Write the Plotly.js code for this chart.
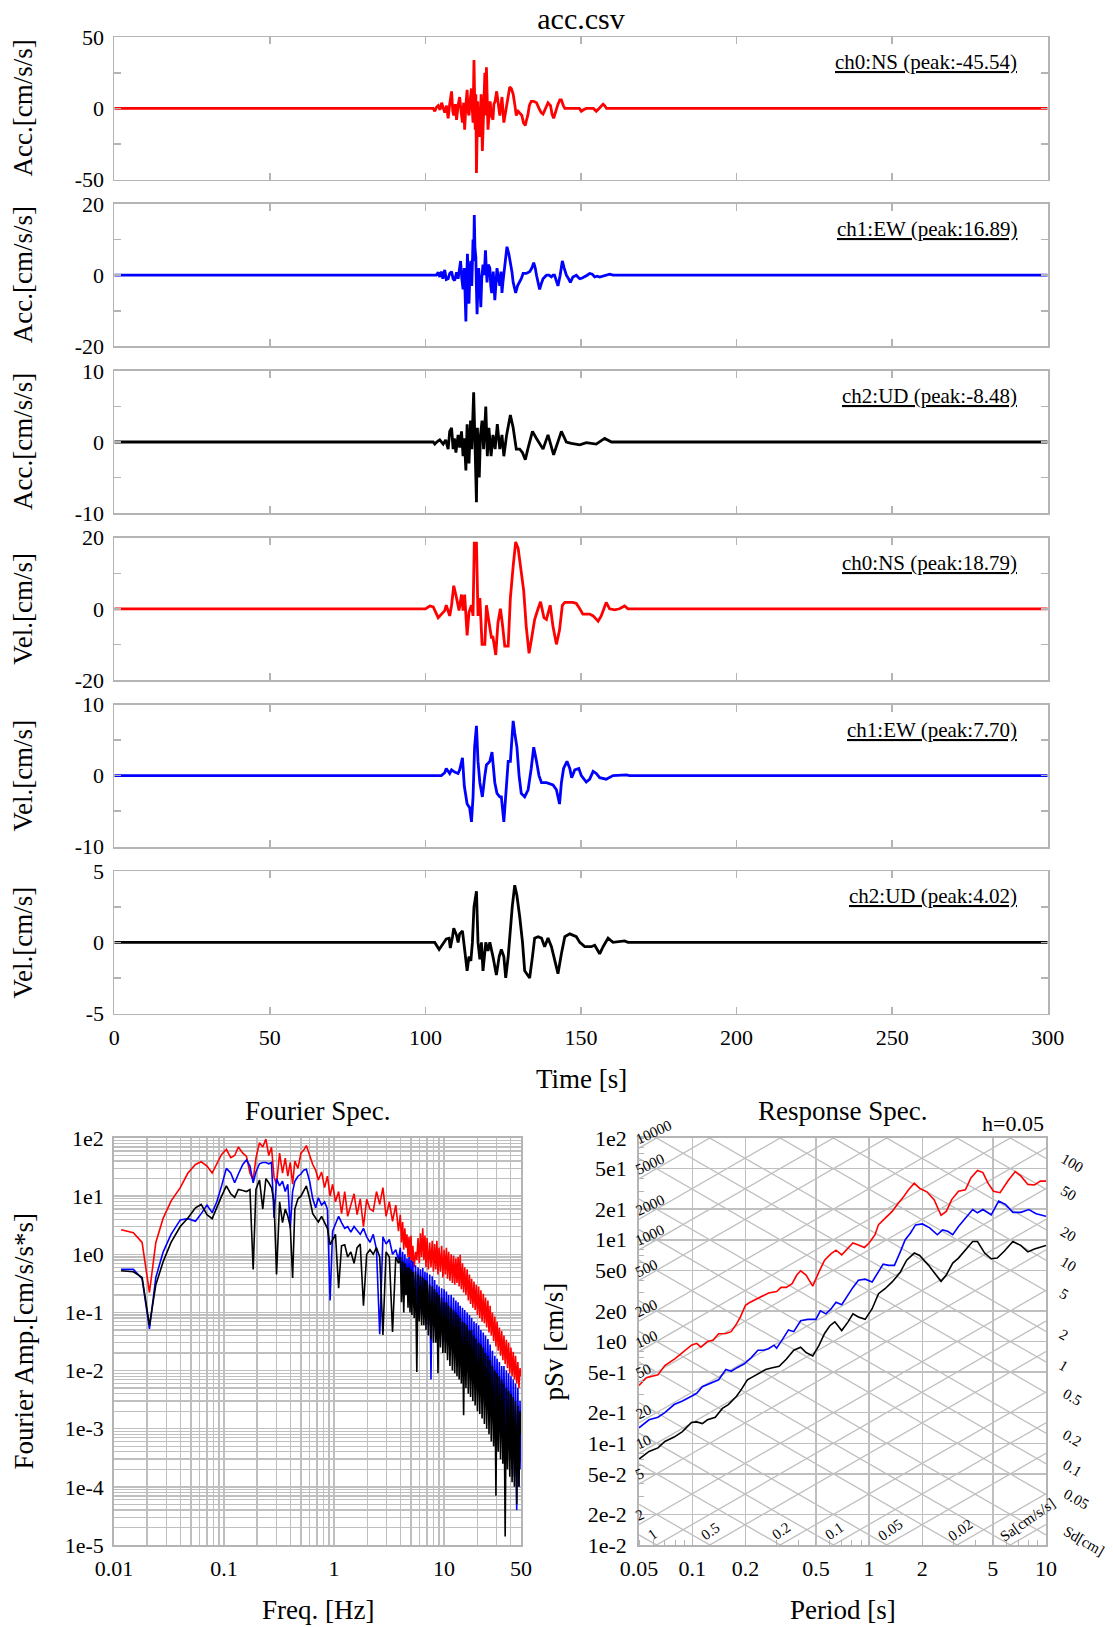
<!DOCTYPE html>
<html><head><meta charset="utf-8">
<script src="https://cdn.plot.ly/plotly-3.0.1.min.js"></script>
<style>html,body{margin:0;padding:0;background:#fff}</style>
</head><body>
<div id="chart" style="width:1113px;height:1627px"></div>
<script>
// ---------------- DATA ----------------
// time histories: [time s, value]
const accNS = [[0,0],[102.5,0],[103.0,-2],[103.6,1],[104.1,2],[104.7,-1],[105.2,4],[105.7,0],[106.2,-3],[106.8,2],[107.3,-7],[107.8,3],[108.4,12],[108.8,-2],[109.1,-5],[109.6,3],[110.0,-8],[110.5,2],[111.0,8],[111.5,-3],[111.9,-10],[112.3,4],[112.6,-15],[113.0,2],[113.4,13],[113.7,-2],[114.0,-5],[114.4,6],[114.8,14],[115.1,-2],[115.3,-10],[115.6,34],[116.0,-15],[116.2,10],[116.4,-45.5],[116.8,5],[117.1,-12],[117.5,-20],[117.9,10],[118.3,-30],[118.7,5],[119.1,25],[119.4,-5],[119.6,29],[120.1,-15],[120.5,2],[120.8,5],[121.2,-5],[121.7,-8],[122.0,3],[122.4,5],[122.9,12],[123.4,2],[123.9,-5],[124.3,2],[124.6,8],[125.2,-10],[125.6,-4],[126.0,0],[126.6,8],[127.1,15],[127.6,14],[128.2,10],[128.7,3],[129.2,-5],[129.8,-2],[130.3,-3],[131.0,-5],[131.5,-10],[132.1,-12],[132.5,-8],[132.9,-5],[133.4,2],[134.0,5],[134.8,5],[135.7,4],[136.5,0],[137.2,-3],[137.8,-4],[138.6,0],[139.4,4],[140.2,2],[140.7,-4],[141.2,-7],[141.8,-2],[142.6,3],[143.2,6],[143.7,6],[144.3,2],[144.8,0],[149.5,0],[150.1,-2],[150.8,-1],[151.7,0],[154.0,0],[154.9,-2],[155.8,0],[156.5,2],[157.1,3],[157.6,2],[158.2,0],[300,0]];
const accEW = [[0,0],[103.5,0],[104.1,0.8],[104.6,-0.5],[105.1,1],[105.6,-1],[106.2,1.5],[106.7,-1.2],[107.3,-1],[107.8,0.5],[108.4,1],[108.9,-1],[109.4,-1.5],[110.0,0.8],[110.5,-1],[111.0,2],[111.3,4],[111.7,-1],[112.1,-4],[112.5,2],[113.0,-13],[113.2,-3],[113.5,6],[113.8,-2],[114.0,-8],[114.3,1],[114.6,4],[114.9,-3],[115.3,10],[115.5,4],[115.7,16.9],[115.9,8],[116.2,5],[116.4,-4],[116.6,-11],[116.9,-2],[117.1,2],[117.5,-3],[117.8,-9],[118.1,-1],[118.5,3],[118.9,0],[119.3,7],[119.6,1],[119.8,-2],[120.2,3],[120.7,2],[121.0,-3],[121.3,-5],[121.8,1],[122.3,-7],[122.7,-2],[123.0,2],[123.5,-1],[123.9,-3],[124.3,1],[124.6,-5],[124.9,-2],[125.2,0],[125.7,4],[126.2,8],[126.8,6],[127.3,4],[127.8,1],[128.2,-2],[128.6,-4],[129.0,-5],[129.6,-3],[130.3,-2],[130.8,-1],[131.4,0.5],[132.4,0.5],[133.5,1],[134.2,2],[134.8,3.5],[135.3,2],[135.7,0],[136.2,-2],[136.7,-4],[137.2,-2.5],[137.8,-1],[138.9,0],[139.7,0],[140.5,-0.5],[141.0,0],[141.5,0],[142.0,-1.5],[142.6,-3],[143.3,0],[144.0,4],[144.6,2],[145.3,0],[146.0,-1],[146.6,-2],[147.4,-0.5],[148.5,0],[149.0,-0.5],[149.6,-1],[150.4,-0.8],[151.2,-0.5],[152.0,0],[152.8,0.5],[153.6,0.3],[154.4,-0.5],[155.2,-0.3],[156.0,-0.5],[157.0,-0.2],[158.0,0],[159.2,0.3],[160.3,0],[300,0]];
const accUD = [[0,0],[102.5,0],[103.0,-0.3],[103.6,0],[104.6,0.3],[105.7,-0.3],[106.5,0.3],[107.3,-1],[107.8,1.5],[108.4,2],[108.9,-1],[109.3,0.5],[109.8,-1.5],[110.5,1],[111.0,-0.8],[111.6,1.5],[112.1,-2],[112.5,0.5],[113.0,-4],[113.4,2.5],[114.0,-3],[114.5,3],[114.9,-1],[115.2,2],[115.5,7],[115.8,2],[116.0,-1],[116.4,-8.48],[116.7,2],[117.0,-2],[117.3,-5],[117.7,1],[118.2,3],[118.7,-1],[119.0,2],[119.4,5],[119.9,-2],[120.4,2],[121.1,-2],[121.7,1],[122.4,-1],[123.1,2.5],[123.9,-1],[124.6,1],[125.2,-2],[126.1,1],[127.3,3.8],[128.2,2],[129.2,-1],[130.3,-1],[131.2,-1.5],[132.1,-2.5],[132.9,-1],[134.4,1.5],[135.7,0.5],[137.8,-1],[139.4,1],[141.2,-1.8],[143.7,1.5],[145.3,0],[146.9,-0.2],[149.6,-0.4],[151.7,-0.1],[154.9,-0.3],[157.6,0.5],[159.8,0],[300,0]];
const velNS = [[0,0],[100,0],[101.4,0.8],[102.5,0.5],[104.1,-2.5],[105.1,-1.5],[106.2,-0.5],[106.7,1],[107.8,-2],[108.4,1],[109.1,6.5],[110.0,3],[110.8,-0.5],[111.6,4],[112.1,-0.5],[112.6,4],[113.4,-7.5],[114.0,-1],[114.8,1],[115.3,-2],[115.7,18.5],[116.4,18.5],[116.9,-2],[117.5,3],[118.2,-10],[119.1,-10],[119.6,1],[120.3,-3],[121.2,-8],[121.7,-8],[122.6,-13],[123.3,-4],[124.1,0],[124.7,-4],[125.5,-10.5],[126.6,-10.5],[127.3,3],[128.2,12],[129.0,18.79],[129.8,17],[130.8,11],[131.6,5],[132.4,-5],[133.3,-12.5],[134.0,-9],[135.1,-3],[136.2,0],[137.0,2],[138.1,-2.5],[138.9,-3],[140.1,1],[141.0,-5],[142.1,-10],[143.1,-6],[144.0,1],[144.8,1.8],[147.4,1.8],[148.5,1.5],[149.6,0],[150.6,-1.5],[152.8,-1.5],[153.9,-2],[155.5,-3.5],[156.5,-2],[158.1,1.8],[159.2,0],[160.8,-0.3],[162.4,0],[164.0,0.8],[165.1,0],[300,0]];
const velEW = [[0,0],[105.1,0],[106.2,0.4],[106.7,1],[107.8,0.3],[108.4,0.8],[109.4,0.5],[110.5,0.3],[111.0,0.8],[111.9,2.5],[112.5,-1.5],[113.4,-4],[114.2,-4.5],[114.8,-6.5],[115.3,-3],[115.8,4],[116.4,7],[116.9,2],[117.5,-1],[118.3,-3],[119.1,0],[119.6,1.5],[120.7,2],[121.4,3.3],[122.3,-1],[123.0,-2.5],[123.9,-3],[124.4,-3],[125.2,-6.5],[125.8,-3],[126.6,2],[127.3,2],[128.2,7.7],[128.7,6],[129.4,4],[130.1,0],[130.8,-2.5],[131.9,-3],[133.0,-2],[134.0,1],[134.8,4],[135.7,2],[136.5,0],[137.3,-1],[138.9,-1],[141.0,-1.3],[142.1,-2],[143.1,-4],[143.7,-1],[144.4,1],[145.5,2],[146.4,1],[147.0,-0.3],[148.0,0.8],[149.3,1],[150.1,0],[151.7,-0.9],[152.8,-0.5],[153.9,0.6],[154.9,0.3],[156.0,-0.3],[158.1,-0.5],[159.2,-0.2],[160.3,0],[164.6,0.1],[165.6,0],[300,0]];
const velUD = [[0,0],[100,0],[101.4,0.05],[103.0,0],[104.4,-0.5],[105.7,-0.1],[106.7,0.25],[107.6,0.3],[108.0,-0.4],[108.7,0.4],[109.1,1],[110.0,0.5],[110.5,0],[111.0,0.6],[111.9,0.8],[112.6,-0.5],[113.4,-2],[114.0,-1],[114.6,-1.3],[115.1,0],[115.6,2.5],[116.4,3.6],[116.9,0],[117.5,-1.2],[118.0,0],[118.5,-2],[119.4,0],[120.1,-0.6],[120.7,0],[121.7,-1],[122.8,-2.3],[123.7,-1],[124.4,-0.5],[125.2,-1],[125.8,-2.5],[126.6,-1],[127.1,0.5],[127.9,2.5],[128.7,4.02],[129.4,3.3],[130.3,1.8],[131.2,0],[131.9,-2],[133.5,-2.5],[134.4,-1],[135.1,0.3],[136.2,0.4],[137.3,0.3],[138.3,-0.3],[139.4,0.3],[140.5,-0.3],[141.5,-1.2],[142.6,-2.2],[143.7,-0.8],[144.8,0.4],[146.4,0.6],[148.5,0.4],[149.6,0],[151.2,-0.3],[153.3,-0.3],[154.4,-0.2],[156.0,-0.8],[157.1,-0.3],[158.7,0.3],[160.3,0],[164.0,0.1],[165.1,0],[300,0]];

const channelTags = ['ch0:NS (peak:-45.54)','ch1:EW (peak:16.89)','ch2:UD (peak:-8.48)','ch0:NS (peak:18.79)','ch1:EW (peak:7.70)','ch2:UD (peak:4.02)'];
const panelTitles = ['Acc.[cm/s/s]','Acc.[cm/s/s]','Acc.[cm/s/s]','Vel.[cm/s]','Vel.[cm/s]','Vel.[cm/s]'];
const panelLimits = [50,20,10,20,10,5];
const timeTicks = [0,50,100,150,200,250,300];

// Fourier spectra (Hz, cm/s/s*s)
const fasFreq = [0.0116,0.015,0.018,0.021,0.024,0.028,0.033,0.04,0.047,0.055, 0.062,0.07,0.078,0.086,0.095,0.105,0.115,0.125,0.135,0.148, 0.16,0.172,0.184,0.195,0.21,0.225,0.24,0.255,0.27,0.285, 0.3,0.32,0.34,0.36,0.38,0.40,0.42,0.44,0.47,0.5, 0.53,0.56,0.6,0.64,0.68,0.72,0.77,0.82,0.87,0.92, 0.97,1.03,1.1,1.17,1.25,1.33,1.42,1.52,1.62,1.73, 1.85,1.98,2.12,2.27,2.43,2.6,2.78,2.97,3.18,3.4, 3.64,3.85,
 4.0,4.1,4.2,4.3,4.4,4.5,4.6,4.7,4.8,4.9, 5.0,5.1,5.2,5.35,5.5,5.65,5.8,5.95,6.1,6.25, 6.4,6.55,6.7,6.85,7.0,7.2,7.4,7.6,7.8,8.0, 8.2,8.4,8.6,8.8,9.0,9.25,9.5,9.75,10,10.25, 10.5,10.75,11,11.3,11.6,11.9,12.2,12.5,12.8,13.1, 13.4,13.7,14,14.35,14.7,15.05,15.4,15.8,16.2,16.6, 17,17.4,17.8,18.25,18.7,19.15,19.6,20.1,20.6,21.1, 21.6,22.15,22.7,23.25,23.8,24.4,25,25.6,26.2,26.85, 27.5,28.2,28.9,29.6,30.3,31.05,31.8,32.6,33.4,34.2, 35,35.9,36.8,37.7,38.6,39.55,40.5,41.5,42.5,43.55, 44.6,45.7,46.8,47.9,49,50];
const fasNS = [2.65,2.35,1.6,0.22,1.6,4.2,8.2,14,25,35, 39,33,25,35,52,64,46,50,70,55, 48,25,19,45,83,70,96,50,69,21, 16,55,25,45,22,38,16,40,30,55, 62,74,50,35,28,19,26,14,22,10, 16,8,12,5.0,12,4.5,7,11,4.8,9, 3.0,8.8,6,5.5,12,7.2,14,4.5,8,3.7, 7,2.5,
 4.8,1.6,3.6,1.2,2.8,1.3,2.2,0.9,2.0,0.8, 2.1,0.7,1.4,0.6,1.1,0.8,1.9,0.7,2.3,0.9, 2.8,0.8,2.1,0.6,1.9,0.55,1.6,0.6,1.7,0.5, 1.5,0.55,1.7,0.45,1.3,0.5,1.4,0.4,1.2,0.45, 1.3,0.38,1.1,0.35,1.0,0.32,0.95,0.3,0.85,0.32, 0.9,0.28,0.98,0.25,0.7,0.22,0.6,0.2,0.55,0.16, 0.45,0.14,0.38,0.12,0.34,0.11,0.3,0.09,0.28,0.08, 0.24,0.07,0.21,0.065,0.18,0.055,0.16,0.045,0.13,0.04, 0.1,0.032,0.085,0.026,0.07,0.022,0.055,0.018,0.048,0.015, 0.04,0.013,0.034,0.011,0.03,0.009,0.025,0.008,0.021,0.007, 0.018,0.006,0.014,0.005,0.011,0.008];
const fasEW = [0.55,0.55,0.38,0.052,0.4,1.1,2.2,3.9,4.1,3.7, 5.0,7.0,5.2,8.0,15,30,25,17,24,35, 42,33,17,26,36,38,38,36,38,4.2, 20,15,18,12,16,2.8,12,18,22,24, 28,29,18,9,6.3,9.4,7,8,6,0.16, 2.5,3.2,4.5,3.5,2.8,3.0,2.4,3.0,2.6,2.2, 2.8,2.0,1.6,2.2,1.2,0.042,2.0,1.5,1.8,1.0, 1.2,0.8,
 1.3,0.3,1.1,0.25,1.0,0.2,0.85,0.18,0.9,0.15, 0.8,0.14,0.75,0.12,0.65,0.1,0.6,0.12,0.55,0.09, 0.58,0.08,0.5,0.07,0.48,0.06,0.45,0.007,0.42,0.06, 0.36,0.05,0.3,0.045,0.28,0.04,0.26,0.035,0.25,0.03, 0.23,0.03,0.2,0.025,0.2,0.022,0.18,0.02,0.16,0.018, 0.15,0.016,0.13,0.014,0.12,0.012,0.11,0.01,0.1,0.009, 0.09,0.008,0.08,0.007,0.07,0.006,0.065,0.005,0.06,0.0045, 0.05,0.004,0.045,0.0035,0.04,0.003,0.035,0.0025,0.028,0.002, 0.022,0.0017,0.018,0.0014,0.016,0.0012,0.014,0.001,0.012,0.0008, 0.012,0.0006,0.01,0.0005,0.009,0.0003,0.008,0.0002,0.007,0.00015, 0.006,0.00004,0.005,0.0001,0.003,0.0002];
const fasUD = [0.52,0.5,0.4,0.06,0.3,0.75,1.6,3.0,4.2,6.3, 7.2,4.8,4.1,6.5,10,15,11,9.5,13,12.5, 12,13,0.55,13,19,6,20,17,14,8, 0.45,8,3.5,6,4.5,3.0,0.39,6,9,10, 12,15,9,5,4.2,3.6,4.5,3.5,2.8,1.46, 1.8,2.2,0.26,1.4,1.46,0.9,1.1,0.7,1.3,1.5, 0.13,1.0,1.2,1.0,1.3,0.9,0.041,1.1,0.9,0.046, 0.9,0.7,
 0.9,0.15,0.75,0.1,0.7,0.2,0.6,0.12,0.6,0.1, 0.55,0.09,0.5,0.08,0.5,0.0095,0.45,0.07,0.42,0.06, 0.4,0.06,0.36,0.05,0.35,0.04,0.3,0.035,0.28,0.03, 0.25,0.03,0.22,0.009,0.2,0.025,0.18,0.02,0.15,0.02, 0.15,0.015,0.13,0.012,0.12,0.01,0.11,0.009,0.1,0.008, 0.09,0.007,0.08,0.006,0.07,0.0017,0.065,0.005,0.06,0.004, 0.05,0.0035,0.05,0.003,0.04,0.0025,0.035,0.002,0.03,0.0018, 0.028,0.0015,0.025,0.0012,0.02,0.001,0.018,0.0008,0.015,0.0006, 0.012,0.0005,0.01,0.00007,0.009,0.0004,0.008,0.0003,0.007,0.00025, 0.006,0.000014,0.005,0.0002,0.0045,0.00015,0.004,0.00012,0.0035,0.0001, 0.003,0.00005,0.0025,0.0001,0.002,0.0008];

// pseudo velocity response spectra (h=0.05): [period s, pSv cm/s]
const psvNS = [[0.05,0.37],[0.055,0.44],[0.064,0.47],[0.07,0.58],[0.08,0.68],[0.088,0.78],[0.099,0.92],[0.106,0.96],[0.112,0.88],[0.122,1.0],[0.131,1.03],[0.141,1.19],[0.155,1.2],[0.166,1.25],[0.178,1.49],[0.187,1.74],[0.2,2.27],[0.21,2.4],[0.225,2.54],[0.247,2.74],[0.27,3.0],[0.3,3.1],[0.318,3.4],[0.34,3.4],[0.367,3.7],[0.39,4.5],[0.41,4.95],[0.44,4.5],[0.48,3.5],[0.52,4.8],[0.56,6.3],[0.61,7.3],[0.65,7.9],[0.7,7.1],[0.74,7.8],[0.81,9.3],[0.87,8.9],[0.94,8.4],[1.0,9.3],[1.08,11.2],[1.13,14.1],[1.23,16.3],[1.35,19],[1.45,22.5],[1.55,25.8],[1.67,31],[1.8,36],[1.93,32],[2.12,29.6],[2.33,24.8],[2.55,17.4],[2.73,19],[2.93,24.8],[3.2,30],[3.5,31],[3.77,40.8],[4.1,48],[4.4,45.7],[4.7,36],[5.05,30],[5.5,29],[6.1,38],[6.7,46.8],[7.2,42.4],[7.9,35],[8.6,34.5],[9.3,37.7],[10,37.7]];
const psvEW = [[0.05,0.142],[0.057,0.17],[0.064,0.18],[0.07,0.2],[0.079,0.24],[0.088,0.26],[0.099,0.29],[0.106,0.31],[0.114,0.36],[0.128,0.39],[0.141,0.42],[0.155,0.53],[0.166,0.51],[0.178,0.55],[0.196,0.6],[0.215,0.69],[0.235,0.82],[0.253,0.82],[0.27,0.85],[0.29,0.92],[0.3,0.86],[0.325,1.06],[0.35,1.3],[0.375,1.25],[0.41,1.6],[0.45,1.65],[0.5,1.65],[0.53,2.0],[0.57,1.87],[0.61,2.1],[0.65,2.43],[0.7,2.3],[0.76,2.9],[0.81,3.4],[0.87,4.0],[0.95,4.1],[1.04,3.85],[1.13,4.8],[1.2,5.75],[1.29,5.6],[1.39,5.6],[1.5,7.6],[1.6,10],[1.71,11.6],[1.83,14],[2.0,14.3],[2.2,13.1],[2.43,11.2],[2.6,12.5],[2.78,12.1],[2.97,11.2],[3.2,13.5],[3.5,16.3],[3.85,19.8],[4.1,18.4],[4.4,19.8],[4.9,17.6],[5.4,24],[5.9,22.2],[6.5,18.6],[7.2,18.6],[8.0,19.8],[8.8,18],[9.6,17.3],[10,17]];
const psvUD = [[0.05,0.07],[0.057,0.083],[0.064,0.09],[0.07,0.104],[0.079,0.115],[0.088,0.13],[0.099,0.16],[0.106,0.162],[0.114,0.156],[0.122,0.17],[0.135,0.18],[0.148,0.22],[0.16,0.24],[0.178,0.29],[0.19,0.34],[0.205,0.42],[0.23,0.47],[0.26,0.53],[0.28,0.55],[0.31,0.57],[0.34,0.67],[0.375,0.82],[0.41,0.88],[0.44,0.78],[0.48,0.72],[0.52,0.91],[0.56,1.2],[0.6,1.43],[0.64,1.56],[0.7,1.28],[0.76,1.56],[0.81,1.87],[0.87,1.74],[0.95,1.65],[1.04,2.1],[1.13,2.95],[1.23,3.3],[1.35,3.85],[1.5,4.8],[1.63,6.3],[1.8,7.4],[1.93,7.0],[2.17,5.6],[2.38,4.5],[2.55,3.9],[2.73,4.5],[2.97,5.9],[3.2,6.6],[3.5,7.9],[3.85,9.6],[4.1,9.6],[4.5,7.4],[4.9,6.5],[5.3,6.6],[5.8,7.7],[6.5,9.6],[7.2,8.8],[7.9,7.6],[8.6,8.1],[9.6,8.7],[10,8.8]];

const rsPeriodTicks = [0.05,0.1,0.2,0.5,1,2,5,10];
const rsPeriodText = ['0.05','0.1','0.2','0.5','1','2','5','10'];
const rsSvTicks = [0.01,0.02,0.05,0.1,0.2,0.5,1,2,5,10,20,50,100];
const rsSvText = ['1e-2','2e-2','5e-2','1e-1','2e-1','5e-1','1e0','2e0','5e0','1e1','2e1','5e1','1e2'];
const saLines = [0.01,0.02,0.05,0.1,0.2,0.5,1,2,5,10,20,50,100,200,500,1000,2000,5000,10000];
const sdLines = [0.0001,0.0002,0.0005,0.001,0.002,0.005,0.01,0.02,0.05,0.1,0.2,0.5,1,2,5,10,20,50,100];

// ---------------- LAYOUT ----------------
const W = 1113, H = 1627;
const FONT = 'Liberation Serif';
const FRAME = '#b4b4b4';
const GRID = '#bfbfbf';
const fx = p => p / W, fy = p => 1 - p / H;
const colors = ['#ff0000','#0000ff','#000000','#ff0000','#0000ff','#000000'];
const series = [accNS, accEW, accUD, velNS, velEW, velUD];

const tsL = 114.3, tsR = 1047.7, tsTop = 37.3, tsStep = 166.8, tsH = 142.2;
const traces = [];
const layout = {
  width: W, height: H, autosize: false,
  margin: {l:0, r:0, t:0, b:0},
  paper_bgcolor: '#fff', plot_bgcolor: '#fff',
  showlegend: false, hovermode: false,
  font: {family: FONT, color: '#000'},
  title: {text: 'acc.csv', x: fx(581), xanchor: 'center', y: fy(18.7), yanchor: 'middle', font: {family: FONT, size: 30, color:'#000'}},
  annotations: []
};

series.forEach((s, i) => {
  const xk = i === 0 ? 'x' : 'x' + (i + 1);
  const yk = i === 0 ? 'y' : 'y' + (i + 1);
  traces.push({x: s.map(p => p[0]), y: s.map(p => p[1]), xaxis: xk, yaxis: yk, type: 'scatter', mode: 'lines',
               line: {color: colors[i], width: 2.8}, hoverinfo: 'skip'});
  const top = tsTop + tsStep * i, bot = top + tsH;
  const lim = panelLimits[i];
  layout[i === 0 ? 'xaxis' : 'xaxis' + (i + 1)] = {
    domain: [fx(tsL), fx(tsR)], range: [0, 300], anchor: yk,
    tickmode: 'array', tickvals: timeTicks, ticktext: timeTicks.map(String), showticklabels: i === 5,
    ticks: 'inside', ticklen: 7, tickwidth: 1.5, tickcolor: FRAME,
    showline: true, linecolor: FRAME, linewidth: 1.8, mirror: 'ticks',
    showgrid: false, zeroline: false, tickfont: {family: FONT, size: 22, color: '#000'},
    ticklabelstandoff: 3, fixedrange: true
  };
  layout[i === 0 ? 'yaxis' : 'yaxis' + (i + 1)] = {
    domain: [fy(bot), fy(top)], range: [-lim, lim], anchor: xk,
    tickmode: 'array', tickvals: [-lim, -lim / 2, 0, lim / 2, lim], ticktext: [String(-lim), '', '0', '', String(lim)],
    ticks: 'inside', ticklen: 7, tickwidth: 1.5, tickcolor: FRAME,
    showline: true, linecolor: FRAME, linewidth: 1.8, mirror: 'ticks',
    showgrid: false, zeroline: false, tickfont: {family: FONT, size: 22, color: '#000'},
    ticklabelstandoff: 4, fixedrange: true
  };
  layout.annotations.push({xref: 'paper', yref: 'paper', x: fx(1018.6), y: fy(top + 25), xanchor: 'right', yanchor: 'middle',
    text: channelTags[i], showarrow: false, font: {family: FONT, size: 21, color: '#000', lineposition: 'under'}});
  layout.annotations.push({xref: 'paper', yref: 'paper', x: fx(23), y: fy((top + bot) / 2), xanchor: 'center', yanchor: 'middle',
    text: panelTitles[i], textangle: -90, showarrow: false, font: {family: FONT, size: 27, color: '#000'}});
});
layout.annotations.push({xref:'paper', yref:'paper', x: fx(581), y: fy(1079), text: 'Time [s]', showarrow:false,
  xanchor:'center', yanchor:'middle', font:{family: FONT, size: 27, color:'#000'}});

// ---- Fourier spectrum ----
const fL = 114, fR = 521, bTop = 1138, bBot = 1545;
const fasX = [], fasXt = [];
for (let e = -2; e <= 1; e++) for (let m = 1; m <= 9; m++) {
  const v = m * Math.pow(10, e);
  if (v > 50.0001) continue;
  fasX.push(v);
  fasXt.push(m === 1 || (m === 5 && e === 1) ? String(+v.toPrecision(3)) : '');
}
const fasY = [], fasYt = [];
for (let e = -5; e <= 1; e++) for (let m = 1; m <= 9; m++) {
  fasY.push(m * Math.pow(10, e)); fasYt.push(m === 1 ? '1e' + e : '');
}
fasY.push(100); fasYt.push('1e2');

[[fasNS, '#ff0000'], [fasEW, '#0000ff'], [fasUD, '#000000']].forEach(([amp, c]) => {
  traces.push({x: fasFreq, y: amp, xaxis: 'x7', yaxis: 'y7', type: 'scatter', mode: 'lines',
               line: {color: c, width: 1.6}, hoverinfo: 'skip'});
});
layout.xaxis7 = {type: 'log', domain: [fx(fL), fx(fR)], range: [-2, Math.log10(50)], anchor: 'y7',
  tickmode: 'array', tickvals: fasX, ticktext: fasXt, ticks: '', showgrid: true, gridcolor: GRID, gridwidth: 1.3,
  showline: true, linecolor: FRAME, linewidth: 1.8, mirror: true, zeroline: false,
  tickfont: {family: FONT, size: 22, color: '#000'}, ticklabelstandoff: 3, fixedrange: true};
layout.yaxis7 = {type: 'log', domain: [fy(bBot), fy(bTop)], range: [-5, 2], anchor: 'x7',
  tickmode: 'array', tickvals: fasY, ticktext: fasYt, ticks: '', showgrid: true, gridcolor: GRID, gridwidth: 1.3,
  showline: true, linecolor: FRAME, linewidth: 1.8, mirror: true, zeroline: false,
  tickfont: {family: FONT, size: 22, color: '#000'}, ticklabelstandoff: 4, fixedrange: true};
layout.annotations.push({xref:'paper', yref:'paper', x: fx((fL + fR) / 2), y: fy(1111), text: 'Fourier Spec.', showarrow:false,
  xanchor:'center', yanchor:'middle', font:{family: FONT, size: 27, color:'#000'}});
layout.annotations.push({xref:'paper', yref:'paper', x: fx((fL + fR) / 2), y: fy(1610), text: 'Freq. [Hz]', showarrow:false,
  xanchor:'center', yanchor:'middle', font:{family: FONT, size: 27, color:'#000'}});
layout.annotations.push({xref:'paper', yref:'paper', x: fx(23), y: fy((bTop + bBot) / 2), text: 'Fourier Amp.[cm/s/s*s]', showarrow:false,
  textangle: -90, xanchor:'center', yanchor:'middle', font:{family: FONT, size: 27, color:'#000'}});

// ---- Response spectrum (tripartite) ----
const rL = 639, rR = 1046;
const twoPi = 2 * Math.PI;
const gx = [], gy = [];
saLines.forEach(sa => { gx.push(0.05, 10, null); gy.push(sa * 0.05 / twoPi, sa * 10 / twoPi, null); });
sdLines.forEach(sd => { gx.push(0.05, 10, null); gy.push(twoPi * sd / 0.05, twoPi * sd / 10, null); });
traces.push({x: gx, y: gy, xaxis: 'x8', yaxis: 'y8', type: 'scatter', mode: 'lines',
             line: {color: GRID, width: 1.3}, hoverinfo: 'skip', connectgaps: false});
[[psvNS, '#ff0000'], [psvEW, '#0000ff'], [psvUD, '#000000']].forEach(([s, c]) => {
  traces.push({x: s.map(p => p[0]), y: s.map(p => p[1]), xaxis: 'x8', yaxis: 'y8', type: 'scatter', mode: 'lines',
               line: {color: c, width: 1.6}, hoverinfo: 'skip'});
});
const minorVals = (lo, hi, vmin, vmax) => { const v = []; for (let e = lo; e <= hi; e++) for (let m = 1; m <= 9; m++) { const x = m * Math.pow(10, e); if (x >= vmin * 0.999 && x <= vmax * 1.001) v.push(x); } return v; };
layout.xaxis8 = {type: 'log', domain: [fx(rL), fx(rR)], range: [Math.log10(0.05), 1], anchor: 'y8',
  tickmode: 'array', tickvals: rsPeriodTicks, ticktext: rsPeriodText, ticks: '', showgrid: true, gridcolor: GRID, gridwidth: 1.5,
  minor: {tickmode: 'array', tickvals: minorVals(-2, 1, 0.05, 10), ticks: 'inside', ticklen: 5, tickcolor: FRAME, showgrid: false},
  showline: true, linecolor: FRAME, linewidth: 1.8, mirror: true, zeroline: false,
  tickfont: {family: FONT, size: 22, color: '#000'}, ticklabelstandoff: 3, fixedrange: true};
layout.yaxis8 = {type: 'log', domain: [fy(bBot), fy(bTop)], range: [-2, 2], anchor: 'x8',
  tickmode: 'array', tickvals: rsSvTicks, ticktext: rsSvText, ticks: '', showgrid: true, gridcolor: GRID, gridwidth: 1.5,
  minor: {tickmode: 'array', tickvals: minorVals(-2, 2, 0.01, 100), ticks: 'inside', ticklen: 5, tickcolor: FRAME, showgrid: false},
  showline: true, linecolor: FRAME, linewidth: 1.8, mirror: true, zeroline: false,
  tickfont: {family: FONT, size: 22, color: '#000'}, ticklabelstandoff: 6, fixedrange: true};

// pixel position helpers for the tripartite labels
const rsPx = T => rL + (Math.log10(T) - Math.log10(0.05)) / (1 - Math.log10(0.05)) * (rR - rL);
const rsPy = v => bTop + (2 - Math.log10(v)) / 4 * (bBot - bTop);
const smallFont = {family: FONT, size: 15, color: '#000'};
saLines.filter(sa => sa >= 2).forEach(sa => {
  const t = String(sa), n = t.length;
  layout.annotations.push({xref:'paper', yref:'paper', x: fx(rsPx(0.05)), y: fy(rsPy(sa * 0.05 / twoPi)), text: t, showarrow:false,
    xanchor:'center', yanchor:'middle', xshift: -3 + 3.6 * n, yshift: 8 + 1.6 * n, textangle: -25, font: smallFont});
});
saLines.filter(sa => sa <= 1).forEach(sa => {
  const t = sa === 0.01 ? 'Sa[cm/s/s]' : String(sa), n = t.length;
  layout.annotations.push({xref:'paper', yref:'paper', x: fx(rsPx(twoPi * 0.01 / sa)), y: fy(bBot), text: t, showarrow:false,
    xanchor:'center', yanchor:'middle', xshift: -6 + 2.3 * n, yshift: 9 + 1.6 * n, textangle: -35, font: smallFont});
});
sdLines.filter(sd => sd >= 0.02).forEach(sd => {
  const t = sd === 0.02 ? 'Sd[cm]' : String(sd), n = t.length;
  layout.annotations.push({xref:'paper', yref:'paper', x: fx(rR), y: fy(rsPy(twoPi * sd / 10)), text: t, showarrow:false,
    xanchor:'center', yanchor:'middle', xshift: 14 + 4 * n, yshift: -3 - 0.5 * n, textangle: 30, font: smallFont});
});
layout.annotations.push({xref:'paper', yref:'paper', x: fx((rL + rR) / 2), y: fy(1111), text: 'Response Spec.', showarrow:false,
  xanchor:'center', yanchor:'middle', font:{family: FONT, size: 27, color:'#000'}});
layout.annotations.push({xref:'paper', yref:'paper', x: fx(rR), y: fy(1123.5), text: 'h=0.05', showarrow:false,
  xanchor:'right', yanchor:'middle', font:{family: FONT, size: 22, color:'#000'}});
layout.annotations.push({xref:'paper', yref:'paper', x: fx((rL + rR) / 2), y: fy(1610), text: 'Period [s]', showarrow:false,
  xanchor:'center', yanchor:'middle', font:{family: FONT, size: 27, color:'#000'}});
layout.annotations.push({xref:'paper', yref:'paper', x: fx(553), y: fy((bTop + bBot) / 2), text: 'pSv [cm/s]', showarrow:false,
  textangle: -90, xanchor:'center', yanchor:'middle', font:{family: FONT, size: 27, color:'#000'}});

Plotly.newPlot('chart', traces, layout, {staticPlot: true, displayModeBar: false});
</script>
</body></html>
